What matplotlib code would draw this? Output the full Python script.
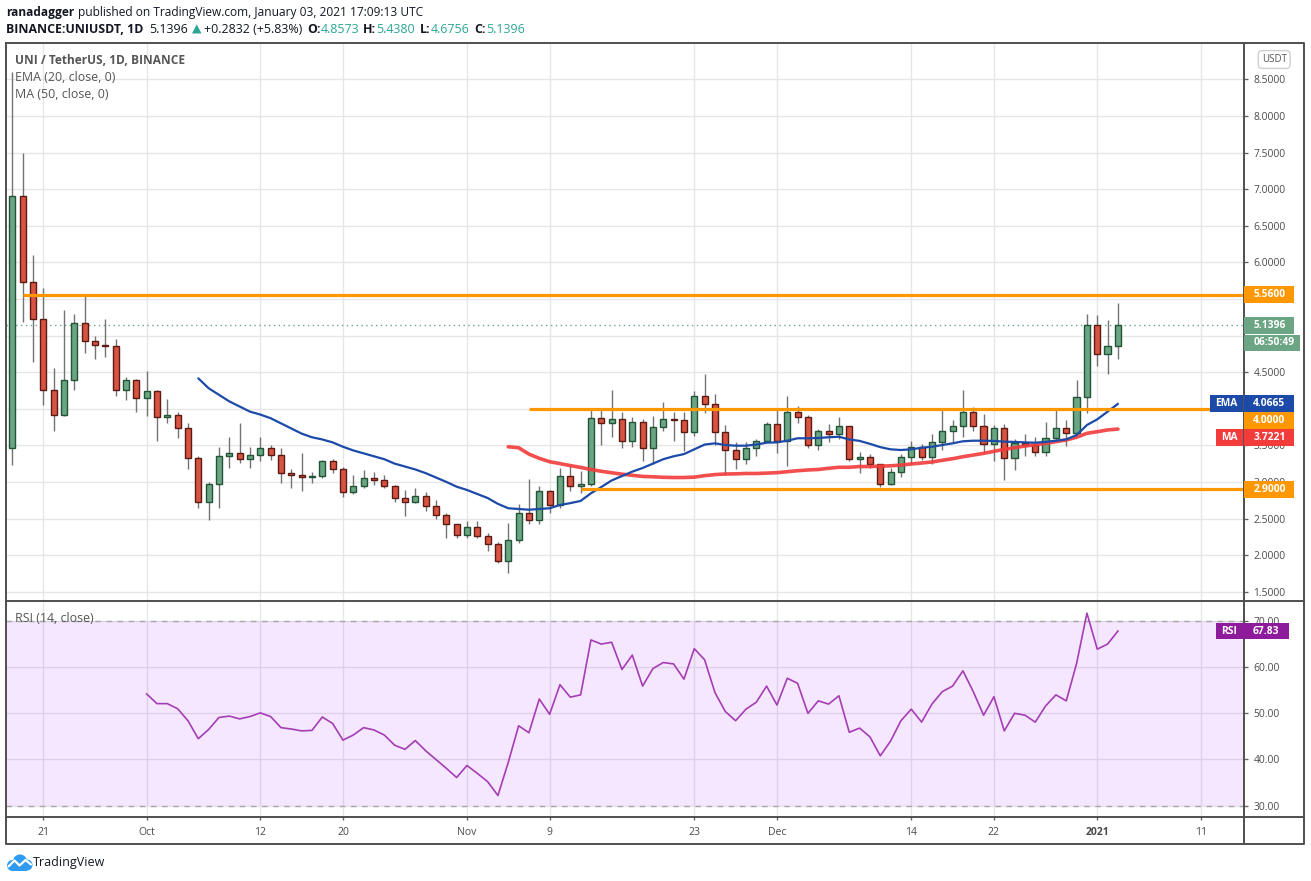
"""
UNI / TetherUS daily candles (Binance), Sep 2020 - Jan 2021,
TradingView-style layout: price pane with EMA20 / MA50 and
support/resistance lines, RSI(14) pane below.
"""

import numpy as np
import pandas as pd
import matplotlib
matplotlib.use("Agg")
import matplotlib.pyplot as plt
import matplotlib.dates as mdates
from matplotlib.lines import Line2D
from matplotlib.patches import Rectangle, Circle
from matplotlib.ticker import FixedLocator, FuncFormatter

plt.rcParams["font.family"] = ["Open Sans", "DejaVu Sans"]

# ── data ─────────────────────────────────────────────────────────────────────
START = "2020-09-18"
opens = [3.47, 6.91, 5.73, 5.22, 4.26, 3.91, 4.39, 5.17, 4.93, 4.87,
         4.85, 4.26, 4.39, 4.15, 4.24, 3.89, 3.91, 3.73, 3.32, 2.72,
         2.97, 3.35, 3.39, 3.31, 3.37, 3.46, 3.37, 3.12, 3.10, 3.07,
         3.08, 3.28, 3.17, 2.86, 2.94, 3.05, 3.02, 2.94, 2.78, 2.72,
         2.81, 2.67, 2.55, 2.42, 2.28, 2.38, 2.26, 2.15, 1.92, 2.21,
         2.57, 2.48, 2.88, 2.69, 3.08, 2.94, 2.97, 3.87, 3.81, 3.86,
         3.56, 3.82, 3.47, 3.75, 3.86, 3.84, 3.68, 4.18, 4.06, 3.68,
         3.44, 3.31, 3.47, 3.56, 3.79, 3.56, 3.95, 3.88, 3.51, 3.69,
         3.65, 3.76, 3.31, 3.345, 3.24, 2.97, 3.13, 3.34, 3.48, 3.34,
         3.54, 3.69, 3.77, 3.96, 3.77, 3.52, 3.73, 3.32, 3.53, 3.51,
         3.41, 3.60, 3.73, 3.67, 4.16, 5.15, 4.75, 4.8573]
highs = [8.60, 7.49, 6.10, 5.65, 4.55, 5.35, 5.29, 5.54, 4.99, 5.22,
         4.95, 4.43, 4.40, 4.52, 4.25, 4.13, 3.96, 3.80, 3.35, 3.00,
         3.48, 3.62, 3.80, 3.48, 3.61, 3.50, 3.46, 3.17, 3.39, 3.14,
         3.30, 3.31, 3.20, 3.09, 3.16, 3.13, 3.09, 2.96, 2.89, 2.91,
         2.86, 2.75, 2.58, 2.43, 2.47, 2.47, 2.30, 2.18, 2.44, 2.70,
         3.04, 2.94, 2.89, 3.19, 3.23, 3.15, 3.98, 3.98, 4.26, 3.95,
         3.89, 3.86, 3.90, 4.09, 3.95, 3.95, 4.24, 4.48, 4.20, 3.78,
         3.55, 3.55, 3.58, 3.82, 3.98, 4.17, 4.04, 3.92, 3.72, 3.79,
         3.88, 3.77, 3.41, 3.38, 3.25, 3.19, 3.38, 3.56, 3.52, 3.66,
         3.98, 3.85, 4.26, 4.03, 3.93, 3.78, 3.79, 3.58, 3.65, 3.61,
         3.82, 3.98, 3.85, 4.39, 5.29, 5.28, 5.21, 5.438]
lows = [3.23, 5.19, 4.64, 4.05, 3.69, 3.90, 4.26, 4.76, 4.68, 4.70,
        4.17, 4.12, 3.95, 3.90, 3.56, 3.81, 3.60, 3.18, 2.64, 2.48,
        2.65, 3.19, 3.26, 3.19, 3.28, 3.30, 2.98, 2.92, 2.88, 2.98,
        3.06, 3.12, 2.80, 2.84, 2.91, 2.96, 2.92, 2.72, 2.53, 2.71,
        2.60, 2.49, 2.24, 2.24, 2.24, 2.24, 2.06, 1.89, 1.76, 2.17,
        2.43, 2.43, 2.58, 2.64, 2.87, 2.85, 2.94, 3.50, 3.61, 3.46,
        3.48, 3.28, 3.25, 3.70, 3.56, 3.42, 3.63, 3.94, 3.51, 3.09,
        3.17, 3.25, 3.35, 3.54, 3.39, 3.22, 3.80, 3.47, 3.44, 3.55,
        3.59, 3.28, 3.12, 3.19, 2.93, 2.96, 3.07, 3.25, 3.30, 3.25,
        3.44, 3.55, 3.62, 3.69, 3.40, 3.28, 3.02, 3.16, 3.35, 3.35,
        3.35, 3.55, 3.49, 3.67, 3.94, 4.58, 4.47, 4.6756]
closes = [6.91, 5.73, 5.22, 4.26, 3.91, 4.39, 5.17, 4.93, 4.87, 4.85,
          4.26, 4.39, 4.15, 4.24, 3.89, 3.91, 3.73, 3.32, 2.72, 2.97,
          3.35, 3.39, 3.31, 3.37, 3.46, 3.37, 3.12, 3.10, 3.07, 3.08,
          3.28, 3.17, 2.86, 2.94, 3.05, 3.02, 2.94, 2.78, 2.72, 2.81,
          2.67, 2.55, 2.42, 2.28, 2.38, 2.26, 2.15, 1.92, 2.21, 2.57,
          2.48, 2.88, 2.69, 3.08, 2.94, 2.97, 3.87, 3.81, 3.86, 3.56,
          3.82, 3.47, 3.75, 3.86, 3.84, 3.68, 4.18, 4.06, 3.68, 3.44,
          3.31, 3.47, 3.56, 3.79, 3.56, 3.95, 3.88, 3.51, 3.70, 3.65,
          3.76, 3.31, 3.345, 3.24, 2.97, 3.13, 3.34, 3.48, 3.34, 3.54,
          3.69, 3.77, 3.96, 3.77, 3.52, 3.73, 3.32, 3.53, 3.51, 3.41,
          3.60, 3.73, 3.67, 4.16, 5.15, 4.75, 4.8573, 5.1396]

EMA_START = "2020-10-06"
ema20 = [4.415, 4.28, 4.19, 4.10, 4.03, 3.96, 3.92, 3.87, 3.80, 3.73,
         3.66, 3.61, 3.58, 3.54, 3.48, 3.43, 3.39, 3.35, 3.31, 3.25,
         3.21, 3.17, 3.12, 3.06, 3.00, 2.935, 2.89, 2.835, 2.78, 2.70,
         2.64, 2.63, 2.62, 2.63, 2.64, 2.685, 2.71, 2.74, 2.845, 2.93,
         3.02, 3.08, 3.14, 3.19, 3.25, 3.31, 3.35, 3.38, 3.445, 3.51,
         3.527, 3.504, 3.495, 3.495, 3.51, 3.536, 3.54, 3.563, 3.596, 3.596,
         3.60, 3.61, 3.617, 3.58, 3.56, 3.52, 3.475, 3.445, 3.436, 3.445,
         3.467, 3.48, 3.504, 3.527, 3.555, 3.563, 3.563, 3.56, 3.55, 3.546,
         3.54, 3.536, 3.546, 3.563, 3.58, 3.64, 3.777, 3.855, 3.96, 4.0665]

MA_START = "2020-11-05"
ma50 = [3.48, 3.467, 3.38, 3.322, 3.276, 3.25, 3.223, 3.198, 3.17, 3.145,
        3.125, 3.106, 3.09, 3.075, 3.07, 3.063, 3.06, 3.06, 3.065, 3.085,
        3.10, 3.108, 3.11, 3.115, 3.115, 3.12, 3.126, 3.14, 3.153, 3.163,
        3.17, 3.186, 3.20, 3.20, 3.21, 3.21, 3.215, 3.22, 3.23, 3.245,
        3.258, 3.272, 3.295, 3.317, 3.344, 3.367, 3.39, 3.418, 3.445, 3.467,
        3.49, 3.508, 3.527, 3.55, 3.573, 3.61, 3.664, 3.686, 3.71, 3.7221]

RSI_START = "2020-10-01"
rsi14 = [54.2, 52.1, 52.1, 51.0, 48.4, 44.5, 46.5, 49.1, 49.4, 48.8,
         49.3, 50.1, 49.3, 46.9, 46.6, 46.2, 46.3, 49.2, 47.8, 44.2,
         45.3, 46.9, 46.4, 45.3, 43.1, 42.2, 44.1, 41.9, 40.0, 38.1,
         36.1,
         38.7, 37.0, 35.2, 32.2, 39.4, 47.3, 45.8, 53.1, 49.8, 56.2,
         53.5, 54.0, 65.9, 65.0, 65.4, 59.5, 62.6, 55.9, 59.7, 61.0,
         60.7, 57.4, 64.0, 61.6, 54.5, 50.4, 48.4, 50.9, 52.4, 55.9,
         51.8, 57.6, 56.5, 50.0, 52.7, 52.0, 53.8, 45.9, 46.8, 44.9,
         40.8, 44.0, 48.4, 50.9, 48.1, 52.0, 54.7, 55.9, 59.2, 54.7,
         49.6, 53.6, 46.2, 50.0, 49.6, 48.1, 51.6, 54.0, 52.7, 60.8,
         71.7,
         63.9, 65.0, 67.83]

# horizontal support / resistance lines drawn by the author
sr_levels = [5.56, 4.00, 2.90]
sr_from = ["2020-09-19", "2020-11-07", "2020-11-12"]

last_price = 5.1396
countdown = "06:50:49"

price_ticks = [1.5, 2.0, 2.5, 3.0, 3.5, 4.0, 4.5, 5.0, 5.5, 6.0, 6.5, 7.0, 7.5, 8.0, 8.5]
hidden_ticks = [4.0, 5.0, 5.5]      # covered by the value boxes on the axis
rsi_ticks = [30, 40, 50, 60, 70]
date_ticks = ["2020-09-21", "2020-10-01", "2020-10-12", "2020-10-20", "2020-11-01",
              "2020-11-09", "2020-11-23", "2020-12-01", "2020-12-14", "2020-12-22",
              "2021-01-01", "2021-01-11"]
date_labels = ["21", "Oct", "12", "20", "Nov", "9", "23", "Dec", "14", "22", "2021", "11"]

# ── colours ──────────────────────────────────────────────────────────────────
UP, UP_EDGE = "#6ba583", "#225437"
DN, DN_EDGE = "#d75442", "#5b1a13"
WICK = "#737375"
EMA_C, MA_C = "#1c4aa8", "#f23b3b"
ORANGE = "#ff9800"
RSI_C, RSI_BOX = "#a53db5", "#8e1a9c"
GRID = "#e6e6e6"
FRAME = "#4f4f4f"
TXT = "#4a4a4a"
TEAL = "#2aa693"

W, H = 1311, 881
fig = plt.figure(figsize=(W / 100, H / 100), dpi=100)
fig.patch.set_facecolor("white")
renderer = fig.canvas.get_renderer()

# pane geometry in pixels
LEFT, RIGHT, AXR = 6, 1244.3, 1304
TOP, MID, BOT, DATEB = 43.3, 601, 817.3, 844

ax = fig.add_axes([LEFT / W, 1 - MID / H, (RIGHT - LEFT) / W, (MID - TOP) / H])
rax = fig.add_axes([LEFT / W, 1 - BOT / H, (RIGHT - LEFT) / W, (BOT - MID) / H], sharex=ax)

dates = pd.date_range(START, periods=len(closes), freq="D")
xd = mdates.date2num(dates)
x0 = xd[0]
ax.set_xlim(x0 - 0.61, x0 + 119.23)
ax.set_ylim(1.373, 8.992)
rax.set_ylim(27.48, 74.33)


def fit_size(s, target_px, weight="normal", ref=10):
    t = fig.text(0, 0, s, fontsize=ref, fontweight=weight)
    w = t.get_window_extent(renderer).width
    t.remove()
    return ref * target_px / w


tick_fs = fit_size("8.5000", 32.3)
date_fs = fit_size("Oct", 16.7)

for a in (ax, rax):
    for sp in a.spines.values():
        sp.set_visible(False)
    a.set_axisbelow(True)
    a.grid(True, color=GRID, lw=1)
    a.xaxis.set_major_locator(FixedLocator(mdates.date2num(pd.to_datetime(date_ticks))))
    a.yaxis.tick_right()
    a.tick_params(axis="y", length=2.9, width=1, color="#666", pad=3.6,
                  labelsize=tick_fs, labelcolor=TXT)

ax.yaxis.set_major_locator(FixedLocator(price_ticks))
ax.yaxis.set_major_formatter(FuncFormatter(
    lambda v, p: "" if any(abs(v - hv) < 1e-9 for hv in hidden_ticks) else f"{v:.4f}"))
ax.tick_params(axis="x", length=0, labelbottom=False)

rax.yaxis.set_major_locator(FixedLocator(rsi_ticks))
rax.yaxis.set_major_formatter(FuncFormatter(lambda v, p: f"{v:.2f}"))
rax.set_xticklabels(date_labels)
rax.tick_params(axis="x", length=2.2, width=1, color="#666", pad=4.5,
                labelsize=date_fs, labelcolor=TXT)
for lab in rax.get_xticklabels():
    if lab.get_text() == "2021":
        lab.set_fontweight("bold")

# ── candles ──────────────────────────────────────────────────────────────────
o, h, l, c = map(np.asarray, (opens, highs, lows, closes))
up = c >= o
ax.vlines(xd, l, h, color=WICK, lw=1, zorder=3)
body_lo = np.minimum(o, c)
body_h = np.maximum(np.abs(c - o), 0.01)
ax.bar(xd[up], body_h[up], bottom=body_lo[up], width=0.6,
       color=UP, edgecolor=UP_EDGE, lw=1, zorder=4)
ax.bar(xd[~up], body_h[~up], bottom=body_lo[~up], width=0.6,
       color=DN, edgecolor=DN_EDGE, lw=1, zorder=4)

# moving averages
ema_x = mdates.date2num(pd.date_range(EMA_START, periods=len(ema20), freq="D"))
ma_x = mdates.date2num(pd.date_range(MA_START, periods=len(ma50), freq="D"))
ax.plot(ma_x, ma50, color=MA_C, lw=2.6, alpha=0.9, zorder=5, solid_capstyle="round")
ax.plot(ema_x, ema20, color=EMA_C, lw=1.6, zorder=5, solid_capstyle="round")

# support / resistance
xmax = ax.get_xlim()[1]
for lvl, frm in zip(sr_levels, sr_from):
    ax.hlines(lvl, mdates.date2num(pd.Timestamp(frm)), xmax, color=ORANGE, lw=2.3, zorder=6)

ax.axhline(last_price, color=UP, lw=1, ls=(0, (1, 2.5)), zorder=2)

# ── RSI pane ─────────────────────────────────────────────────────────────────
rsi_x = mdates.date2num(pd.date_range(RSI_START, periods=len(rsi14), freq="D"))
rax.axhspan(30, 70, color="#9915ff", alpha=0.1, lw=0, zorder=1)
for lv in (30, 70):
    rax.axhline(lv, color="#a8a8a8", lw=1, ls=(0, (4, 4)), zorder=2)
rax.plot(rsi_x, rsi14, color=RSI_C, lw=1.2, zorder=4)

# ── frame ────────────────────────────────────────────────────────────────────
def fline(xs, ys, **kw):
    fig.add_artist(Line2D([x / W for x in xs], [1 - y / H for y in ys],
                          transform=fig.transFigure, color=FRAME, lw=1.4, zorder=20, **kw))


fline([LEFT, AXR, AXR, LEFT, LEFT], [TOP, TOP, DATEB, DATEB, TOP])
fline([RIGHT, RIGHT], [TOP, DATEB])
fline([LEFT, AXR], [MID, MID])
fline([LEFT, AXR], [BOT, BOT])

# ── axis value boxes ─────────────────────────────────────────────────────────
BOX_H = 16.7


def ypix(a, v):
    return H - a.transData.transform((0, v))[1]


def box(xa, xb, yc, text, fc, ha="left", fs=None):
    fig.add_artist(Rectangle((xa / W, 1 - (yc + BOX_H / 2) / H), (xb - xa) / W, BOX_H / H,
                             transform=fig.transFigure, fc=fc, ec="none", zorder=30))
    tx = xa + 9 if ha == "left" else (xa + xb) / 2
    fig.text(tx / W, 1 - yc / H, text, ha=ha, va="center", color="white",
             fontsize=fs or tick_fs, fontweight="bold", zorder=31)


# stack labels that would overlap
labels = [(ema20[-1], "4.0665", EMA_C, "EMA"), (sr_levels[1], "4.0000", ORANGE, None),
          (ma50[-1], "3.7221", MA_C, "MA")]
prev = -1e9
for val, txt, col, tag in labels:
    yc = max(ypix(ax, val), prev + BOX_H)
    prev = yc
    box(RIGHT, 1294, yc, txt, col)
    if tag:
        box(1242.7 - (32.7 if tag == "EMA" else 26.7), 1242.7, yc, tag, col, ha="center")

box(RIGHT, 1294, ypix(ax, sr_levels[0]), "5.5600", ORANGE)
box(RIGHT, 1294, ypix(ax, sr_levels[2]), "2.9000", ORANGE)
yc = ypix(ax, last_price)
box(RIGHT, 1294, yc, f"{last_price:.4f}", UP)
box(RIGHT, 1300, yc + BOX_H + 1, countdown, UP)

yr = ypix(rax, rsi14[-1])
box(1243.3, 1289, yr, f"{rsi14[-1]:.2f}", RSI_BOX)
box(1216, 1242.7, yr, "RSI", RSI_BOX, ha="center")

fig.text(1274.2 / W, 1 - 59.5 / H, "USDT", ha="center", va="center", color="#555",
         fontsize=tick_fs * 0.95,
         bbox=dict(boxstyle="round,pad=0.35,rounding_size=0.4", fc="white", ec="#cfcfcf", lw=1),
         zorder=25)

# ── pane legends ─────────────────────────────────────────────────────────────
leg_fs = fit_size("UNI / TetherUS, 1D, BINANCE", 170, weight="bold")
fig.text(15.3 / W, 1 - 60.7 / H, "UNI / TetherUS, 1D, BINANCE", fontsize=leg_fs,
         fontweight="bold", color="#555", va="center")
sub_fs = fit_size("EMA (20, close, 0)", 100)
fig.text(15.3 / W, 1 - 77.7 / H, "EMA (20, close, 0)", fontsize=sub_fs, color="#555", va="center")
fig.text(15.3 / W, 1 - 94.3 / H, "MA (50, close, 0)", fontsize=sub_fs, color="#555", va="center")
fig.text(15.3 / W, 1 - 618.5 / H, "RSI (14, close)", fontsize=sub_fs, color="#555", va="center")

# ── header lines ─────────────────────────────────────────────────────────────
def run_line(x, yc, pieces, target_w):
    ref = 10
    tot = 0
    for s, col, wt, gap in pieces:
        t = fig.text(0, 0, s, fontsize=ref, fontweight=wt)
        tot += t.get_window_extent(renderer).width + gap * ref * 100 / 72
        t.remove()
    fs = ref * target_w / tot
    for s, col, wt, gap in pieces:
        x += gap * fs * 100 / 72
        t = fig.text(x / W, 1 - yc / H, s, fontsize=fs, fontweight=wt, color=col, va="center")
        x += t.get_window_extent(renderer).width


INK = "#131722"
run_line(6.4, 12.5, [("ranadagger", INK, "bold", 0),
                     ("published on TradingView.com, January 03, 2021 17:09:13 UTC", INK, "normal", 0.28)],
         417)
run_line(6.4, 29.5, [("BINANCE:UNIUSDT, 1D", INK, "bold", 0),
                     ("5.1396", INK, "normal", 0.45),
                     ("\u25b2", TEAL, "normal", 0.3),
                     ("+0.2832 (+5.83%)", INK, "normal", 0.2),
                     ("O:", INK, "bold", 0.4), ("4.8573", TEAL, "normal", 0),
                     ("H:", INK, "bold", 0.3), ("5.4380", TEAL, "normal", 0),
                     ("L:", INK, "bold", 0.45), ("4.6756", TEAL, "normal", 0),
                     ("C:", INK, "bold", 0.4), ("5.1396", TEAL, "normal", 0)],
         515)

# ── TradingView logo ─────────────────────────────────────────────────────────
lax = fig.add_axes([6 / W, 1 - 871 / H, 27 / W, 17 / H])
lax.set_xlim(0, 27)
lax.set_ylim(0, 17)
lax.axis("off")
LOGO = "#2e9af0"
for cx, cy, r in [(6.5, 5.5, 5.5), (14, 9.5, 7), (21, 6, 5.5)]:
    lax.add_patch(Circle((cx, cy), r, color=LOGO, lw=0))
lax.add_patch(Rectangle((6.5, 0.2), 14.5, 6, color=LOGO, lw=0))
lax.plot([2.5, 8.5, 13.5, 19.5, 25], [4.5, 10.5, 5.5, 11, 6.5], color="white", lw=1.6,
         solid_capstyle="round")
tv_fs = fit_size("TradingView", 72)
fig.text(33 / W, 1 - 862.3 / H, "TradingView", fontsize=tv_fs, color=INK, va="center")

fig.savefig("out.png", dpi=100, facecolor="white")
